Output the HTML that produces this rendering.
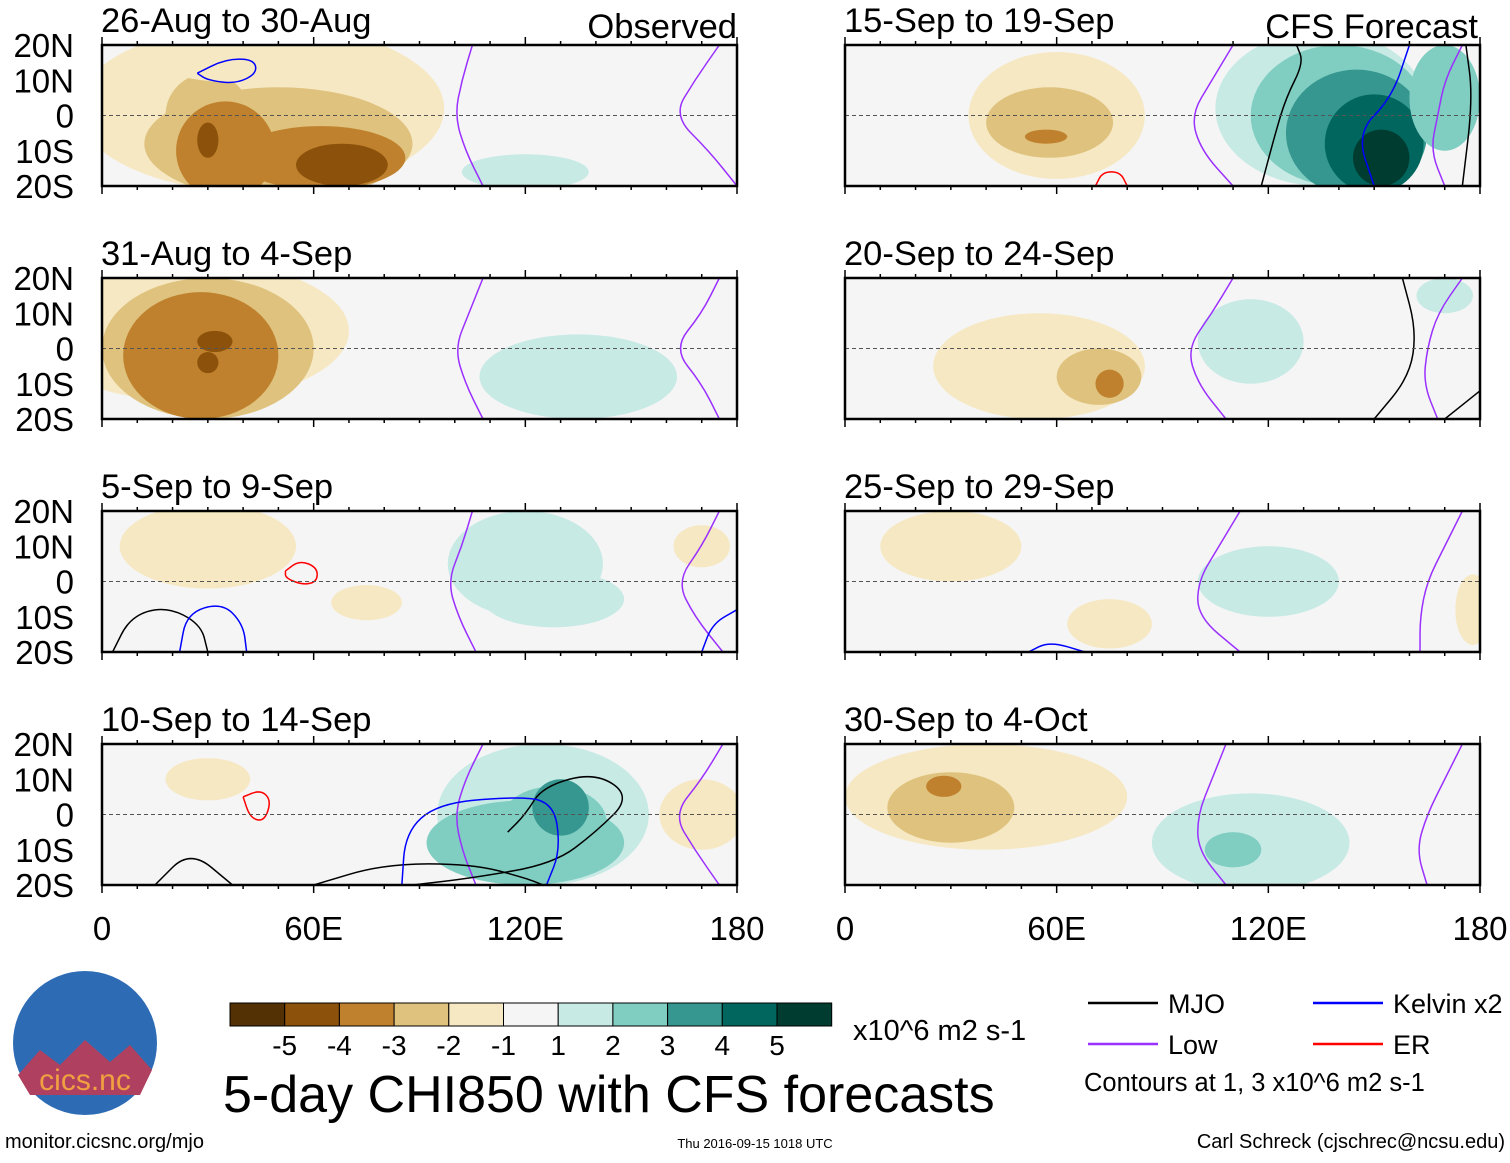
<!DOCTYPE html>
<html><head><meta charset="utf-8"><style>
body{margin:0;background:#fff;width:1510px;height:1158px;overflow:hidden;font-family:"Liberation Sans",sans-serif}
svg text{font-family:"Liberation Sans",sans-serif}
</style></head><body>
<svg id="s" width="1510" height="1158" xmlns="http://www.w3.org/2000/svg"></svg>
<script>
const boxColors=["#543005","#8c510a","#bf812d","#dfc27d","#f6e8c3","#f5f5f5","#c7eae5","#80cdc1","#35978f","#01665e","#003c30"];
const boxLabels=["-5","-4","-3","-2","-1","1","2","3","4","5"];
const panelTitles=["26-Aug to 30-Aug","31-Aug to 4-Sep","5-Sep to 9-Sep","10-Sep to 14-Sep","15-Sep to 19-Sep","20-Sep to 24-Sep","25-Sep to 29-Sep","30-Sep to 4-Oct"];
const latTicks=["20N","10N","0","10S","20S"];
const lonTicks=["0","60E","120E","180"];
// blobs: [lon, lat, rlon, rlat, level]
const blobs=[
 [[45,2,52,24,-1],[50,-8,38,16,-2],[30,0,12,12,-2],[35,-10,14,14,-3],[62,-12,24,9,-3],[30,-7,3,5,-4],[68,-14,13,6,-4],[120,-16,18,5,1],[45,15,30,6,-1]],
 [[25,5,45,20,-1],[30,0,30,20,-2],[28,-2,22,18,-3],[32,2,5,3,-4],[30,-4,3,3,-4],[135,-8,28,12,1]],
 [[30,10,25,12,-1],[75,-6,10,5,-1],[120,5,22,15,1],[128,-5,20,8,1],[170,10,8,6,-1]],
 [[125,0,30,20,1],[120,-8,28,12,2],[128,-2,15,10,2],[130,2,8,8,3],[170,0,12,10,-1],[30,10,12,6,-1]],
 [[60,0,25,18,-1],[58,-2,18,10,-2],[57,-6,6,2,-3],[135,2,30,22,1],[140,0,25,20,2],[145,-5,20,18,3],[150,-8,14,14,4],[152,-12,8,8,5],[170,5,10,15,2]],
 [[55,-5,30,15,-1],[72,-8,12,8,-2],[75,-10,4,4,-3],[115,2,15,12,1],[170,15,8,5,1]],
 [[30,10,20,10,-1],[75,-12,12,7,-1],[120,0,20,10,1],[178,-8,5,10,-1]],
 [[40,5,40,15,-1],[30,2,18,10,-2],[28,8,5,3,-3],[115,-8,28,14,1],[110,-10,8,5,2]]
];
// purple Low contour lons at lat 20,10,0,-10,-20
const lowLines=[[[105,102,100,103,108],[175,168,162,172,180]],[[108,104,100,103,108],[175,170,162,170,175]],[[105,102,98,101,106],[175,170,163,168,176]],[[108,103,100,102,106],[176,170,162,168,175]],[[110,104,98,101,110],[175,170,168,166,170]],[[110,104,97,100,108],[175,168,165,164,168]],[[112,106,100,100,112],[175,170,165,163,163]],[[108,104,100,100,108],[175,170,165,162,165]]];
// other contours: [color, lon/lat points]
const contours=[
 [["#0000ff",[[27,12],[35,16],[43,16],[44,12],[38,9],[30,10],[27,12]]]],
 [],
 [["#ff0000",[[52,3],[56,6],[61,4],[61,0],[57,-1],[52,1],[52,3]]],["#000",[[3,-20],[8,-10],[18,-7],[28,-12],[30,-20]]],["#0000ff",[[22,-20],[24,-9],[34,-6],[40,-12],[41,-20]]],["#0000ff",[[170,-20],[173,-12],[180,-8]]]],
 [["#ff0000",[[40,5],[45,7],[48,4],[46,-2],[42,-1],[40,5]]],["#000",[[15,-20],[25,-10],[37,-20]]],["#000",[[60,-20],[80,-14],[105,-14],[120,-18],[125,-20]]],["#000",[[88,-20],[105,-18],[128,-14],[140,-5],[150,5],[140,12],[125,8],[120,0],[115,-5]]],["#0000ff",[[85,-20],[86,-5],[95,3],[115,5],[128,4],[130,-10],[126,-20]]]],
 [["#000",[[118,-20],[122,-5],[125,5],[130,15],[128,20]]],["#000",[[176,20],[178,5],[175,-20]]],["#0000ff",[[160,20],[155,5],[145,-5],[150,-20]]],["#ff0000",[[71,-20],[73,-16],[78,-16],[80,-20]]]],
 [["#000",[[150,-20],[160,-8],[162,5],[158,20]]],["#000",[[170,-20],[180,-12]]]],
 [["#0000ff",[[52,-20],[58,-17],[68,-20]]]],
 []
];
const s=document.getElementById('s');const NS="http://www.w3.org/2000/svg";
function el(t,a,p){const e=document.createElementNS(NS,t);for(const k in a)e.setAttribute(k,a[k]);(p||s).appendChild(e);return e;}
function lvlColor(l){return boxColors[5+l];}
function smooth(pts){let d='M'+pts[0][0]+' '+pts[0][1];for(let k=1;k<pts.length;k++){const p0=pts[k-1],p1=pts[k];const mx=(p0[0]+p1[0])/2,my=(p0[1]+p1[1])/2;d+=k==1?' L'+mx+' '+my:' Q'+p0[0]+' '+p0[1]+' '+mx+' '+my;}const l=pts[pts.length-1];d+=' L'+l[0]+' '+l[1];return d;}
const defs=el('defs',{});
for(let i=0;i<8;i++){
 const col=i<4?0:1,row=i%4;
 const x0=col?845:102,x1=col?1480:737,y0=45+row*233,y1=y0+141;
 const X=lon=>x0+(x1-x0)*lon/180,Y=lat=>y0+(y1-y0)*(20-lat)/40;
 const cp=el('clipPath',{id:'c'+i},defs);el('rect',{x:x0,y:y0,width:x1-x0,height:y1-y0},cp);
 const g=el('g',{'clip-path':'url(#c'+i+')'});
 
 
 el('rect',{x:x0,y:y0,width:x1-x0,height:y1-y0,fill:"#f5f5f5"},g);
 blobs[i].forEach(b=>{const e=el('ellipse',{cx:X(b[0]),cy:Y(b[1]),rx:(x1-x0)*b[2]/180,ry:(y1-y0)*b[3]/40,fill:lvlColor(b[4])},g);
  });
 lowLines[i].forEach(L=>{const pts=L.map((lo,k)=>[X(lo),Y(20-k*10)]);
  const p=el('path',{d:smooth(pts),fill:'none',stroke:'#9b30ff','stroke-width':1.5},g);
  });
 contours[i].forEach(c=>{const pts=c[1].map(q=>[X(q[0]),Y(q[1])]);
  const p=el('path',{d:smooth(pts),fill:'none',stroke:c[0],'stroke-width':1.5},g);
  });
 el('line',{x1:x0,x2:x1,y1:Y(0),y2:Y(0),stroke:'#555','stroke-dasharray':'4 3','stroke-width':1},g);
 el('rect',{x:x0,y:y0,width:x1-x0,height:y1-y0,fill:'none',stroke:'#000','stroke-width':2.5});
 for(let lo=0;lo<=180;lo+=10){const tl=lo%60==0?8:4;el('line',{x1:X(lo),x2:X(lo),y1:y0,y2:y0-tl,stroke:'#000','stroke-width':1.5});el('line',{x1:X(lo),x2:X(lo),y1:y1,y2:y1+tl,stroke:'#000','stroke-width':1.5});}
 const t=el('text',{x:x0-1,y:y0-13,'font-size':34.5});t.textContent=panelTitles[i];
 
 if(!col)latTicks.forEach((lt,k)=>{const tt=el('text',{x:74,y:Y(20-k*10)+12,'font-size':33,'text-anchor':'end'});tt.textContent=lt;});
 if(row==3)lonTicks.forEach((lt,k)=>{const tt=el('text',{x:X(k*60),y:940,'font-size':33,'text-anchor':'middle'});tt.textContent=lt;});
}
let t=el('text',{x:737,y:38,'font-size':34.5,'text-anchor':'end'});t.textContent="Observed";
t=el('text',{x:1478,y:38,'font-size':34.5,'text-anchor':'end'});t.textContent="CFS Forecast";
boxColors.forEach((c,k)=>{const r=el('rect',{x:230+k*54.7,y:1003,width:54.7,height:23,fill:c,stroke:'#000','stroke-width':1});});
boxLabels.forEach((l,k)=>{const tt=el('text',{x:230+(k+1)*54.7,y:1055,'font-size':28,'text-anchor':'middle'});tt.textContent=l;});
t=el('text',{x:853,y:1040,'font-size':29});t.textContent="x10^6 m2 s-1";
t=el('text',{x:223,y:1112,'font-size':52});t.textContent="5-day CHI850 with CFS forecasts";

[[1088,1003,'#000','MJO'],[1313,1003,'#0000ff','Kelvin x2'],[1088,1044,'#9b30ff','Low'],[1313,1044,'#ff0000','ER']].forEach(a=>{
 el('line',{x1:a[0],x2:a[0]+70,y1:a[1],y2:a[1],stroke:a[2],'stroke-width':2.5});
 const tt=el('text',{x:a[0]+80,y:a[1]+10,'font-size':27});tt.textContent=a[3];
 });
t=el('text',{x:1084,y:1091,'font-size':25.5});t.textContent="Contours at 1, 3 x10^6 m2 s-1";
el('circle',{cx:85,cy:1043,r:72,fill:'#2d6cb5'});
el('path',{d:'M18 1075 L40 1050 L60 1065 L85 1040 L110 1062 L130 1045 L152 1070 L140 1095 L30 1095 Z',fill:'#b04060'});
t=el('text',{x:85,y:1090,'font-size':30,'text-anchor':'middle',fill:'#f0a040'});t.textContent="cics.nc";
t=el('text',{x:5,y:1148,'font-size':20});t.textContent="monitor.cicsnc.org/mjo";
t=el('text',{x:755,y:1148,'font-size':13,'text-anchor':'middle'});t.textContent="Thu 2016-09-15 1018 UTC";
t=el('text',{x:1505,y:1148,'font-size':20,'text-anchor':'end'});t.textContent="Carl Schreck (cjschrec@ncsu.edu)";
</script></body></html>
